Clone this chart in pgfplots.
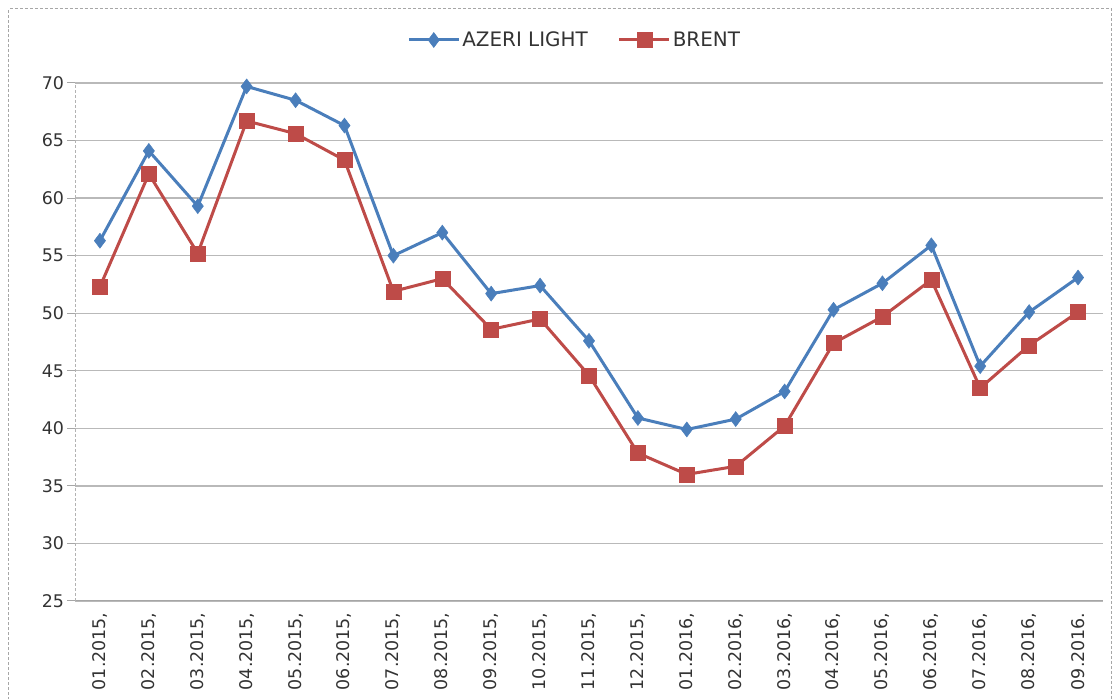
\documentclass[border=0pt]{standalone}
\usepackage{fontspec}
\setmainfont{DejaVu Sans}
\usepackage{pgfplots}
\pgfplotsset{compat=1.18}
\definecolor{azeri}{HTML}{4A7EBB}
\definecolor{brent}{HTML}{BE4B48}
\begin{document}
\begin{tikzpicture}[x=1bp,y=1bp]
\path[use as bounding box] (-75.5,-98) rectangle (1044.5,601);
\draw[gray!70, densely dashed, line width=1bp] (-67,-99) -- (-67,592) -- (1036,592) -- (1036,-99);
\begin{axis}[
  at={(0bp,0bp)}, anchor=south west,
  scale only axis, width=1027bp, height=518bp,
  xmin=-0.5, xmax=20.5, ymin=25, ymax=70,
  ytick={25,30,...,70},
  xtick={0,...,20},
  xticklabels={{01.2015,},{02.2015,},{03.2015,},{04.2015,},{05.2015,},{06.2015,},{07.2015,},{08.2015,},{09.2015,},{10.2015,},{11.2015,},{12.2015,},{01.2016,},{02.2016,},{03.2016,},{04.2016,},{05.2016,},{06.2016,},{07.2016,},{08.2016,},{09.2016.}},
  minor xtick={-0.5,0.5,...,20.5},
  xtick style={draw=none},
  minor x tick style={gray!70, line width=0.8bp},
  ytick style={gray!70, line width=1bp},
  tick align=outside, major tick length=8bp, minor tick length=5bp,
  axis x line*=bottom, axis y line*=left,
  x axis line style={gray!70, line width=1bp, -},
  y axis line style={gray!60, line width=1bp, densely dashed, -},
  ymajorgrids, grid style={gray!55, line width=1.4bp},
  /pgf/number format/assume math mode=true,
  yticklabel style={font=\fontsize{17.5}{20}\selectfont, text=black!80},
  xticklabel style={rotate=90, anchor=east, font=\fontsize{17.5}{20}\selectfont, text=black!80},
  legend style={at={(0.486,1.083)}, anchor=center, draw=none, fill=none,
    font=\fontsize{20}{22}\selectfont, text=black!80,
    /tikz/every even column/.append style={column sep=28bp}},
  legend columns=2,
  legend image code/.code={\draw[mark repeat=2,mark phase=2] plot coordinates {(0bp,0bp) (25bp,0bp) (50bp,0bp)};},
]
\addplot[azeri, line width=3bp, mark=diamond*, mark size=7.5bp, mark options={solid, fill=azeri, line width=0.5bp}] coordinates {
(0,56.3) (1,64.1) (2,59.3) (3,69.7) (4,68.5) (5,66.3) (6,55.0) (7,57.0) (8,51.7) (9,52.4)
(10,47.6) (11,40.9) (12,39.9) (13,40.8) (14,43.2) (15,50.3) (16,52.6) (17,55.9) (18,45.4) (19,50.1) (20,53.1)};
\addlegendentry{AZERI LIGHT}
\addplot[brent, line width=3bp, mark=square*, mark size=7.5bp, mark options={solid, fill=brent, line width=0.5bp}] coordinates {
(0,52.3) (1,62.1) (2,55.2) (3,66.7) (4,65.6) (5,63.3) (6,51.9) (7,53.0) (8,48.6) (9,49.5)
(10,44.6) (11,37.85) (12,36.0) (13,36.7) (14,40.2) (15,47.4) (16,49.7) (17,52.9) (18,43.5) (19,47.2) (20,50.1)};
\addlegendentry{BRENT}
\end{axis}
\end{tikzpicture}
\end{document}
